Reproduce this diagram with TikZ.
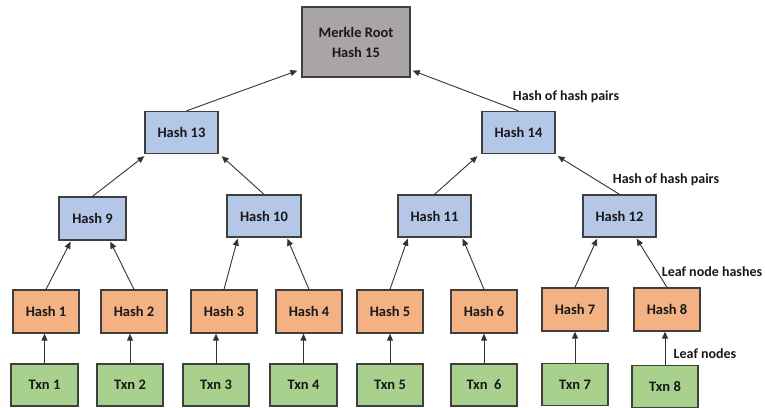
\documentclass[tikz,border=0pt]{standalone}
\usepackage{fontspec}
\setmainfont{Carlito}
\usetikzlibrary{arrows.meta,calc}
\definecolor{bord}{HTML}{3F3F3F}
\definecolor{rootc}{HTML}{A9A5A5}
\definecolor{midc}{HTML}{B4C7E7}
\definecolor{leafc}{HTML}{F4B183}
\definecolor{txnc}{HTML}{A9D18E}
\tikzset{
  box/.style={draw=bord, line width=1.3pt, inner sep=0pt, font=\bfseries\fontsize{14.5}{20}\selectfont, text=black!90, align=center},
  rootbox/.style={box, fill=rootc, minimum width=108pt, minimum height=70pt},
  midbox/.style={box, fill=midc, minimum width=73pt, minimum height=42pt},
  leafbox/.style={box, fill=leafc, minimum width=66pt, minimum height=43pt},
  txnbox/.style={box, fill=txnc, minimum width=66pt, minimum height=42pt},
  conn/.style={draw=black!80, line width=0.9pt, -{Triangle[length=7pt,width=6pt]}},
  lbl/.style={font=\bfseries\fontsize{14}{16}\selectfont, text=black!90, inner sep=0pt}
}
\begin{document}
\begin{tikzpicture}[x=1pt,y=-1pt]
\useasboundingbox (0,0) rectangle (765,407);
% nodes
\node[rootbox] (root) at (356,42) {Merkle Root\\Hash 15};
\node[midbox] (h13) at (181.5,132.5) {Hash 13};
\node[midbox] (h14) at (518.5,132.5) {Hash 14};
\node[midbox, minimum width=67pt, minimum height=43pt] (h9) at (92.5,218.5) {Hash 9};
\node[midbox, minimum width=74pt] (h10) at (264,216) {Hash 10};
\node[midbox] (h11) at (434.5,216) {Hash 11};
\node[midbox] (h12) at (619.5,216) {Hash 12};
\node[leafbox] (h1) at (46,311.5) {Hash 1};
\node[leafbox] (h2) at (134,311.5) {Hash 2};
\node[leafbox] (h3) at (224,311.5) {Hash 3};
\node[leafbox] (h4) at (309,311.5) {Hash 4};
\node[leafbox] (h5) at (390,311.5) {Hash 5};
\node[leafbox] (h6) at (484,311.5) {Hash 6};
\node[leafbox] (h7) at (575,309.5) {Hash 7};
\node[leafbox] (h8) at (667,309.5) {Hash 8};
\node[txnbox, minimum width=67pt] (t1) at (44.5,385) {Txn 1};
\node[txnbox] (t2) at (130,385) {Txn 2};
\node[txnbox] (t3) at (216,385) {Txn 3};
\node[txnbox, minimum width=67pt] (t4) at (303.5,385) {Txn 4};
\node[txnbox] (t5) at (390,385) {Txn 5};
\node[txnbox] (t6) at (484,385) {Txn\ \ 6};
\node[txnbox] (t7) at (575,384.5) {Txn 7};
\node[txnbox] (t8) at (665,386.5) {Txn 8};
% txn -> leaf hash
\foreach \i in {1,...,8} {
  \draw[conn] (t\i.north) -- (t\i.north |- h\i.south);
}
% leaf hash -> level 2
\draw[conn] (h1.north) -- ($(h9.south west)!0.18!(h9.south east)+(0,1)$);
\draw[conn] (h2.north) -- ($(h9.south west)!0.76!(h9.south east)+(0,1)$);
\draw[conn] (h3.north) -- ($(h10.south west)!0.15!(h10.south east)+(0,1)$);
\draw[conn] (h4.north) -- ($(h10.south west)!0.81!(h10.south east)+(0,1)$);
\draw[conn] (h5.north) -- ($(h11.south west)!0.14!(h11.south east)+(0,1)$);
\draw[conn] (h6.north) -- ($(h11.south west)!0.88!(h11.south east)+(0,1)$);
\draw[conn] (h7.north) -- ($(h12.south west)!0.2!(h12.south east)+(0,1)$);
\draw[conn] (h8.north) -- ($(h12.south west)!0.73!(h12.south east)+(0,1)$);
% level 2 -> level 3
\draw[conn] (h9.north) -- ($(h13.south west)+(0,2)$);
\draw[conn] (h10.north) -- ($(h13.south east)+(3,2)$);
\draw[conn] (h11.north) -- ($(h14.south west)+(-4,2)$);
\draw[conn] (h12.north) -- ($(h14.south east)+(2,2)$);
% level 3 -> root
\draw[conn] ($(h13.north)+(5,0)$) -- ($(root.south west)+(-4,-7)$);
\draw[conn] (h14.north) -- ($(root.south east)+(2,-7)$);
% labels
\node[lbl] (l1) at (566,97) {Hash of hash pairs};
\node[lbl] (l2) at (666,180) {Hash of hash pairs};
\node[lbl] (l3) at (712,272) {Leaf node hashes};
\node[lbl] (l4) at (705,354) {Leaf nodes};
\end{tikzpicture}
\end{document}
